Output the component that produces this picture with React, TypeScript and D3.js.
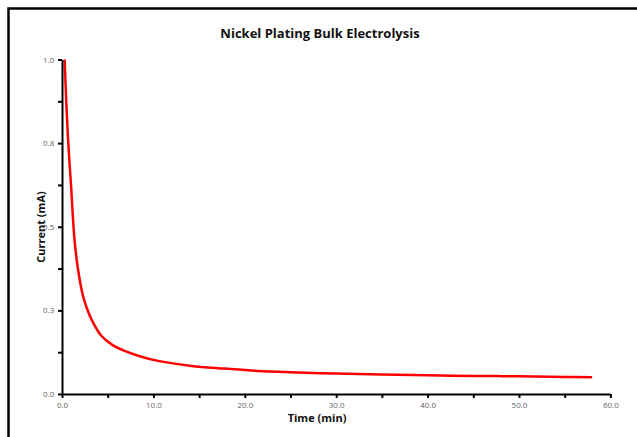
import React, { useEffect, useRef } from "react";
import * as d3 from "d3";

const timeMin = [0.29, 0.45, 0.66, 0.85, 1.02, 1.2, 1.39, 1.75, 2.3, 2.75, 3.21, 4.3, 5.5, 6.86, 8.5, 10.5, 14.15, 17.8, 21.4, 25, 30, 35, 40, 45, 50, 55, 58];
const currentMA = [1.0, 0.885, 0.763, 0.68, 0.61, 0.525, 0.455, 0.373, 0.293, 0.254, 0.224, 0.174, 0.147, 0.129, 0.113, 0.099, 0.084, 0.076, 0.069, 0.065, 0.061, 0.058, 0.056, 0.054, 0.053, 0.051, 0.05];
const xTicks = [0, 10, 20, 30, 40, 50, 60];
const xMinorTicks = [5, 15, 25, 35, 45, 55];
const yTicks = [0, 0.25, 0.5, 0.75, 1.0];
const yMinorTicks = [0.125, 0.375, 0.625, 0.875];

const W = 637, H = 437;
const margin = { left: 62, right: 637 - 610.4, top: 59.5, bottom: 437 - 394 };

export default function App() {
  const ref = useRef<SVGSVGElement>(null);
  useEffect(() => {
    const svg = d3.select(ref.current);
    svg.selectAll("*").remove();
    const x = d3.scaleLinear().domain([0, 60]).range([margin.left, W - margin.right]);
    const y = d3.scaleLinear().domain([0, 1]).range([H - margin.bottom, margin.top]);

    svg.append("rect").attr("x", 8.5).attr("y", 8.5).attr("width", 700).attr("height", 500)
      .attr("fill", "white").attr("stroke", "black").attr("stroke-width", 2.5);

    svg.append("text").attr("x", 320).attr("y", 38).attr("text-anchor", "middle")
      .attr("font-family", "'Open Sans', sans-serif").attr("font-weight", "bold").attr("font-size", 13)
      .attr("fill", "#111").text("Nickel Plating Bulk Electrolysis");

    const line = d3.line<number>().x((_, i) => x(timeMin[i])).y((d) => y(d)).curve(d3.curveCatmullRom.alpha(0.5));
    svg.append("path").datum(currentMA).attr("d", line).attr("fill", "none")
      .attr("stroke", "#ff0000").attr("stroke-width", 2.5);

    const xAxis = d3.axisBottom(x).tickValues(xTicks).tickFormat(d3.format(".1f")).tickSize(4).tickSizeOuter(0);
    const gx = svg.append("g").attr("transform", `translate(0,${y(0)})`).call(xAxis);
    const xMinor = d3.axisBottom(x).tickValues(xMinorTicks).tickFormat(() => "").tickSize(4).tickSizeOuter(0);
    svg.append("g").attr("transform", `translate(0,${y(0)})`).call(xMinor).select(".domain").remove();

    const yAxis = d3.axisLeft(y).tickValues(yTicks).tickFormat(d3.format(".1f")).tickSize(4).tickSizeOuter(0);
    const gy = svg.append("g").attr("transform", `translate(${x(0)},0)`).call(yAxis);
    const yMinor = d3.axisLeft(y).tickValues(yMinorTicks).tickFormat(() => "").tickSize(4).tickSizeOuter(0);
    svg.append("g").attr("transform", `translate(${x(0)},0)`).call(yMinor).select(".domain").remove();

    svg.selectAll(".domain").attr("stroke", "black").attr("stroke-width", 2);
    svg.selectAll(".tick line").attr("stroke", "black").attr("stroke-width", 2);
    svg.selectAll(".tick text").attr("fill", "#666").attr("font-size", 8)
      .attr("font-family", "'Open Sans', sans-serif");
    gx.selectAll(".tick text").attr("dy", "0.9em");
    gy.selectAll(".tick text").attr("dx", "-0.1em");

    svg.append("text").attr("x", 317).attr("y", 422).attr("text-anchor", "middle")
      .attr("font-family", "'Open Sans', sans-serif").attr("font-weight", "bold").attr("font-size", 11)
      .attr("fill", "#111").text("Time (min)");
    svg.append("text").attr("transform", `translate(45,${227}) rotate(-90)`).attr("text-anchor", "middle")
      .attr("font-family", "'Open Sans', sans-serif").attr("font-weight", "bold").attr("font-size", 11)
      .attr("fill", "#111").text("Current (mA)");
  }, []);
  return (
    <svg ref={ref} width={W} height={H} style={{ position: "absolute", left: 0, top: 0, display: "block" }} />
  );
}
